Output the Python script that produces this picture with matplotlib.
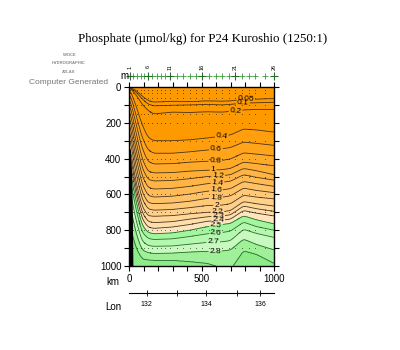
import numpy as np
import matplotlib.pyplot as plt

plt.rcParams['font.family'] = ['Liberation Sans', 'DejaVu Sans']

# distances (km) at which the isoline depths were read
col_km = [0, 15, 50, 90, 130, 170, 300, 420, 540, 640, 700, 790, 880, 1000]

# phosphate isolines (umol/kg) and their depths (m) at col_km
levels = [0.05, 0.1, 0.2, 0.4, 0.6, 0.8, 1.0, 1.2, 1.4, 1.6,
          1.8, 2.0, 2.2, 2.3, 2.4, 2.5, 2.6, 2.7, 2.8, 2.9]
d_005 = [2, 5, 20, 50, 75, 85, 80, 82, 78, 80, 78, 70, 68, 65]
d_01 = [4, 8, 30, 65, 95, 105, 102, 100, 97, 100, 97, 90, 88, 85]
d_02 = [6, 12, 45, 95, 130, 150, 140, 142, 138, 140, 136, 128, 125, 125]
d_04 = [15, 30, 110, 210, 280, 300, 300, 295, 285, 275, 268, 235, 240, 252]
d_06 = [35, 60, 160, 280, 350, 370, 370, 362, 352, 345, 338, 308, 315, 326]
d_08 = [60, 95, 210, 340, 415, 430, 428, 420, 415, 410, 402, 368, 375, 385]
d_10 = [90, 130, 260, 400, 470, 480, 478, 470, 465, 462, 455, 420, 428, 440]
d_12 = [120, 170, 310, 450, 515, 525, 522, 512, 500, 495, 490, 455, 468, 490]
d_14 = [155, 210, 355, 495, 560, 570, 566, 555, 540, 532, 526, 490, 505, 520]
d_16 = [190, 250, 400, 540, 605, 615, 610, 598, 582, 575, 568, 528, 540, 555]
d_18 = [230, 290, 445, 585, 645, 652, 648, 638, 622, 616, 608, 565, 578, 590]
d_20 = [270, 330, 490, 625, 680, 688, 684, 674, 662, 660, 652, 605, 615, 625]
d_22 = [310, 375, 535, 665, 718, 722, 718, 708, 700, 697, 690, 640, 652, 665]
d_23 = [345, 410, 570, 700, 750, 758, 752, 738, 725, 720, 714, 665, 680, 695]
d_24 = [385, 450, 605, 735, 782, 790, 782, 768, 750, 744, 738, 690, 705, 720]
d_25 = [430, 495, 645, 770, 812, 820, 815, 800, 780, 768, 762, 720, 742, 765]
d_26 = [480, 545, 690, 810, 845, 852, 848, 835, 820, 813, 805, 755, 780, 800]
d_27 = [540, 610, 750, 860, 885, 890, 888, 878, 868, 865, 858, 795, 818, 840]
d_28 = [620, 690, 820, 910, 925, 930, 928, 922, 918, 916, 910, 850, 880, 910]
d_29 = [750, 800, 900, 960, 965, 968, 968, 975, 985, 1010, 1020, 915, 935, 985]
iso_depths = [d_005, d_01, d_02, d_04, d_06, d_08, d_10, d_12, d_14, d_16,
              d_18, d_20, d_22, d_23, d_24, d_25, d_26, d_27, d_28, d_29]

# where the isoline labels sit (km)
label_levels = [0.05, 0.1, 0.2, 0.4, 0.6, 0.8, 1.0, 1.2, 1.4, 1.6, 1.8,
                2.0, 2.2, 2.3, 2.4, 2.5, 2.6, 2.7, 2.8]
label_km = [805, 785, 735, 640, 600, 595, 580, 615, 610, 600, 600,
            605, 610, 615, 615, 600, 600, 580, 595]

# stations
station_km = [5, 30, 55, 80, 105, 131, 160, 190, 220, 250, 283, 330, 370,
              420, 460, 503, 550, 600, 640, 690, 731, 780, 830, 870, 935, 1000]
station_num = list(range(1, 27))
sample_depth = [15, 35, 60, 100, 150, 200, 300, 400, 500, 600, 700, 800, 900]

# bottom on the left
bottom_km = [4, 14, 18, 22]
bottom_depth = [350, 500, 700, 1000]

# longitude scale under the section
lon_km = [122, 329, 531, 743, 903]
lon_labels = ['132', '', '134', '', '136']

band_colors = ['#FF9900', '#FF9900', '#FF9900', '#FF9900', '#FF9F0E',
               '#FFA41B', '#FFA928', '#FFAF36', '#FFB545', '#FFBB55',
               '#FFC266', '#FFC978', '#FFD08A', '#FFD79B', '#FFDEAD',
               '#FFE5BF', '#A3F59E', '#B4F7AE', '#C8FAC0', '#A0F09A',
               '#8EEB8A']

# build the field from the isoline depths (lightly smoothed along km)
km = np.linspace(0, 1000, 401)
dep = np.linspace(0, 1000, 401)
w = 6
kern = np.ones(2 * w + 1) / (2 * w + 1)
iso = []
for d in iso_depths:
    row = np.pad(np.interp(km, col_km, d), w, mode='edge')
    iso.append(np.convolve(row, kern, mode='same')[w:-w])
iso = np.array(iso)
field = np.empty((len(dep), len(km)))
for j in range(len(km)):
    field[:, j] = np.interp(dep, np.r_[0, iso[:, j], 1400],
                            np.r_[0.0, levels, 3.0])

fig = plt.figure(figsize=(4, 3.5), dpi=100)
ax = fig.add_axes([0.3225, 0.24, 0.3625, 0.5114])

bounds = [-1] + levels + [9]
ax.contourf(km, dep, field, levels=bounds, colors=band_colors)
line_colors = ['#4a3315' if lv < 2.5 else '#2a6a2a' for lv in levels]
cs = ax.contour(km, dep, field, levels=levels, colors=line_colors,
                linewidths=0.6)

pos = []
for lv, xk in zip(label_levels, label_km):
    i = levels.index(lv)
    pos.append((xk, np.interp(xk, km, iso[i])))
ax.clabel(cs, levels=label_levels, manual=pos, inline=True, fontsize=6,
          fmt='%g', colors='k', inline_spacing=1)

# sample points
X, Y = np.meshgrid(station_km, sample_depth)
keep = Y <= np.interp(X, bottom_km, bottom_depth, right=2000)
ax.plot(X[keep], Y[keep], 'k.', ms=0.9, mew=0)

ax.fill_betweenx(bottom_depth, 0, bottom_km, color='k', zorder=3)

ax.set_xlim(0, 1000)
ax.set_ylim(1000, 0)
ax.set_xticks([0, 500, 1000])
ax.set_xticks(np.arange(0, 1001, 100), minor=True)
ax.set_yticks(np.arange(0, 1001, 200))
ax.set_yticks(np.arange(0, 1001, 100), minor=True)
ax.tick_params(which='both', direction='out', top=True, right=True,
               length=3.5, width=0.8, labelsize=7, pad=2)
for s in ax.spines.values():
    s.set_linewidth(1.0)

# station markers and numbers above the section
tr = ax.get_xaxis_transform()
ax.plot(station_km, [1.061] * len(station_km), '+', color='#3c9a3c',
        ms=4, mew=0.6, transform=tr, clip_on=False)
for k, n in zip(station_km, station_num):
    if n % 5 == 1:
        ax.plot(k, 1.061, '+', color='#2a6a2a', ms=5.5, mew=0.8,
                transform=tr, clip_on=False)
        ax.text(k, 1.112, str(n), rotation=90, fontsize=4, ha='center',
                va='center', transform=tr)

# longitude scale
sec = ax.secondary_xaxis(-0.151)
sec.set_xticks(lon_km, labels=lon_labels)
sec.tick_params(direction='inout', length=5, width=0.6, labelsize=5, pad=3)
sec.spines['bottom'].set_linewidth(0.8)

fig.text(0.5075, 0.889, 'Phosphate (\u00b5mol/kg) for P24 Kuroshio (1250:1)',
         family='Liberation Serif', fontsize=9.3, ha='center', va='center')
fig.text(124 / 400, 1 - 76 / 350, 'm', fontsize=7, ha='center', va='center')
fig.text(113 / 400, 1 - 282 / 350, 'km', fontsize=7, ha='center', va='center')
fig.text(113 / 400, 1 - 307 / 350, 'Lon', fontsize=7, ha='center', va='center')
fig.text(69 / 400, 1 - 82 / 350, 'Computer Generated', fontsize=6,
         color='#777777', ha='center', va='center')
for txt, yy in [('WOCE', 55), ('HYDROGRAPHIC', 63), ('ATLAS', 72)]:
    fig.text(69 / 400, 1 - yy / 350, txt, fontsize=3, color='#888888',
             weight='bold', ha='center', va='center')

fig.savefig('out.png', dpi=100)
